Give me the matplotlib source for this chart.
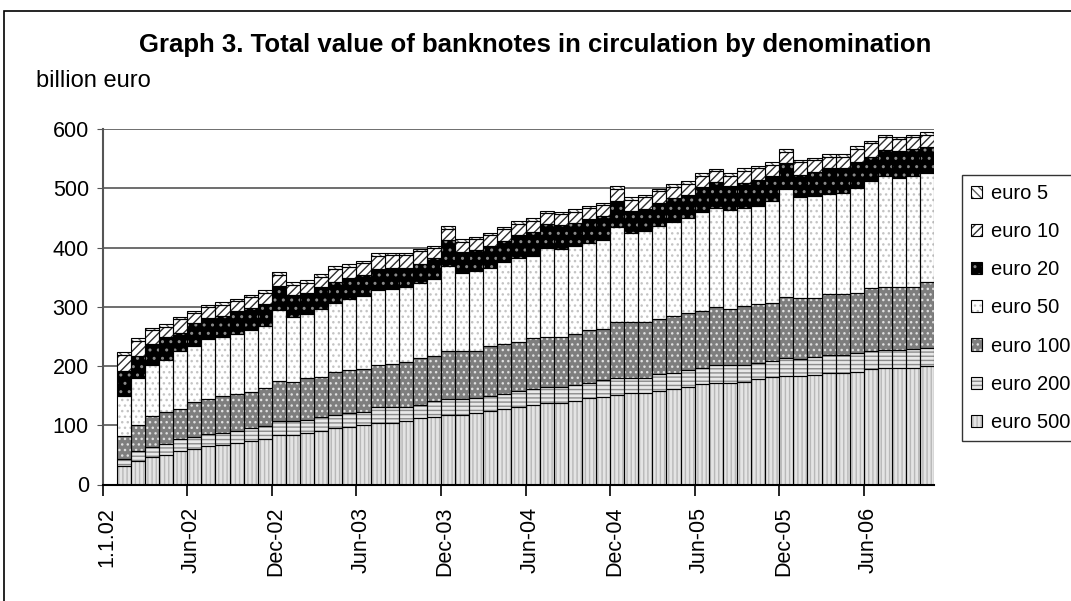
import matplotlib
matplotlib.use("Agg")
import matplotlib.pyplot as plt
import numpy as np
from matplotlib.patches import Patch, Rectangle

plt.rcParams['font.family'] = ['Liberation Sans', 'DejaVu Sans']
plt.rcParams['hatch.linewidth'] = 1.0

# categories: 1.1.02 then month ends Jan-02 .. Oct-06
month_names = ['Jan', 'Feb', 'Mar', 'Apr', 'May', 'Jun',
               'Jul', 'Aug', 'Sep', 'Oct', 'Nov', 'Dec']
categories = ['1.1.02'] + [f'{m}-{y:02d}' for y in range(2, 7) for m in month_names][:58]
label_every = 6

nan = np.nan
# billion euro (no bar shown for 1.1.02)
euro500 = [nan,
           31, 40.5, 46.5, 49.5, 56, 60, 64.5, 67.5, 70, 73, 77.5, 83.5,
           83.5, 87, 91, 95, 97.5, 100.5, 103, 104.5, 107.5, 111.5, 114.5, 117.5,
           117.5, 121.5, 124.5, 128, 131.5, 134.5, 137, 138, 141.5, 145.5, 148, 151,
           154, 154, 158.5, 161, 164, 169.5, 170.5, 170.5, 173.5, 177.5, 181, 183.5,
           183.5, 185, 187.5, 188.5, 190.5, 194.5, 197, 197, 197, 200.5]
euro200 = [nan,
           12.5, 16, 17, 19.5, 21, 20, 21, 19.5, 20, 22.5, 22, 23,
           23, 22.5, 22.5, 22.5, 22.5, 22.5, 27, 26, 24, 22.5, 26.5, 27,
           27, 25, 25, 25, 26, 26.5, 27, 26, 26.5, 26.5, 28, 29.5,
           26.5, 26.5, 28, 28, 29, 27.5, 31, 31, 28, 27, 27, 30.5,
           27.5, 30, 30.5, 30, 31, 30, 30, 30, 31, 30.5]
euro100 = [nan,
           38, 44.5, 51.5, 53.5, 51, 59.5, 59.5, 62, 63.5, 60, 63.5, 69,
           66, 70, 68.5, 73, 73, 72, 72.5, 72.5, 75, 79, 76.5, 81.5,
           81.5, 79, 84.5, 84, 82.5, 86, 85.5, 85.5, 85.5, 89, 87, 93,
           93, 93, 93, 95, 97, 95.5, 98.5, 94.5, 99.5, 99.5, 99, 103,
           103, 100.5, 103, 103, 102.5, 107, 107, 107, 106, 110]
euro50 = [nan,
          68.5, 79.5, 86, 88, 96.5, 95, 100.5, 99.5, 101, 105.5, 105, 119,
          109.5, 108.5, 113.5, 115.5, 119.5, 123, 126.5, 126.5, 126.5, 126.5, 129, 143.5,
          130.5, 134, 132, 139, 141.5, 139, 150, 147.5, 149, 146, 149, 161,
          151, 154.5, 157, 159.5, 159, 168, 167, 167, 166.5, 166, 171.5, 181,
          171.5, 172, 169.5, 170, 177, 180, 187, 184, 187, 184.5]
euro20 = [nan,
          41, 37, 36.5, 38, 32, 38, 35.5, 35.5, 37.5, 36.5, 37, 40.5,
          38, 35, 38.5, 36.5, 35.5, 35.5, 35.5, 35.5, 32, 32, 35.5, 43.5,
          36.5, 36.5, 36.5, 35.5, 39.5, 41, 40.5, 41, 39.5, 40.5, 40.5, 43.5,
          36.5, 36.5, 38, 39.5, 39.5, 41, 43, 40.5, 41.5, 44, 42, 44,
          36.5, 40.5, 43.5, 42.5, 44, 42, 44, 45.5, 45, 44]
euro10 = [nan,
          28, 25.5, 22.5, 18, 23, 17, 18.5, 19.5, 18, 18.5, 18, 18.5,
          17, 17, 17, 21.5, 19.5, 19.5, 21.5, 21.5, 21.5, 22, 17, 18.5,
          17, 18.5, 18.5, 19.5, 19.5, 18.5, 18, 18.5, 18.5, 19, 18.5, 21,
          19.5, 20, 20.5, 19.5, 19.5, 19, 18.5, 17.5, 20.5, 19.5, 19, 19.5,
          21.5, 19, 19.5, 19.5, 21.5, 22.5, 21.5, 19.5, 20, 21]
euro5 = [nan,
         4, 4.5, 4, 4, 4, 4, 4, 4, 3.5, 4, 4.5, 4.5,
         4, 4.5, 4, 4, 4, 4, 4, 4, 4, 4, 4, 4,
         4, 4, 4, 4, 4, 4, 4, 4, 4, 4, 4, 4.5,
         4, 4, 4, 4, 4, 4.5, 4, 4, 4, 4, 4, 4.5,
         4, 4, 4, 4, 4, 4, 4, 4, 4, 4]

series_names = ['euro 500', 'euro 200', 'euro 100', 'euro 50', 'euro 20', 'euro 10', 'euro 5']
series_values = [euro500, euro200, euro100, euro50, euro20, euro10, euro5]
# (face colour, hatch, hatch colour) imitating the grey-scale fill patterns
styles = [('#e4e4e4', '||||', '#b8b8b8'),
          ('#e8e8e8', '----', '#8c8c8c'),
          ('#7e7e7e', '...', '#e0e0e0'),
          ('#ffffff', '...', '#c4c4c4'),
          ('#000000', '..', '#8a8a8a'),
          ('#ffffff', '////', '#303030'),
          ('#ffffff', '\\\\\\\\', '#606060')]

W, H = 1071, 601
fig = plt.figure(figsize=(W / 100, H / 100), dpi=100)
ax = fig.add_axes([102.7 / W, 1 - 484.5 / H, (934.3 - 102.7) / W, (484.5 - 129) / H])

x = np.arange(len(categories))
bottom = np.zeros(len(categories))
handles = []
for name, vals, (fc, hatch, hc) in zip(series_names, series_values, styles):
    vals = np.array(vals, dtype=float)
    ax.bar(x, vals, width=1.0, bottom=bottom, color=fc, hatch=hatch,
           edgecolor=hc, linewidth=0, zorder=2)
    ax.bar(x, vals, width=1.0, bottom=bottom, fill=False,
           edgecolor='black', linewidth=0.8, zorder=3)
    handles.append((Patch(facecolor=fc, hatch=hatch, edgecolor=hc, linewidth=0),
                    Patch(fill=False, edgecolor='black', linewidth=0.8)))
    bottom = bottom + vals

ax.set_xlim(-0.5, len(categories) - 0.5)
ax.set_ylim(0, 600)
ax.set_yticks(np.arange(0, 601, 100))
ax.yaxis.grid(True, color='#555555', linewidth=1.2)
ax.set_axisbelow(True)
ax.tick_params(axis='y', labelsize=15.5, length=4, color='#555555', pad=6)

pos = np.arange(0, len(categories), label_every)
ax.set_xticks(pos - 0.5)
ax.set_xticklabels([])
ax.set_xticks(pos - 0.2, minor=True)
ax.set_xticklabels([categories[i] for i in pos], minor=True, rotation=90,
                   fontsize=15.5)
ax.tick_params(axis='x', which='major', length=8, width=1.2)
ax.tick_params(axis='x', which='minor', length=0, pad=16)

for s in ['top', 'right']:
    ax.spines[s].set_visible(False)
ax.spines['left'].set_color('#555555')
ax.spines['left'].set_linewidth(1.5)
ax.spines['bottom'].set_linewidth(1.5)

fig.text(535 / W, 1 - 45 / H,
         'Graph 3. Total value of banknotes in circulation by denomination',
         ha='center', va='center', fontsize=18.5, fontweight='bold')
fig.text(36 / W, 1 - 81 / H, 'billion euro', ha='left', va='center', fontsize=17)

leg = fig.legend(handles[::-1], series_names[::-1], loc='upper left',
                 bbox_to_anchor=(962 / W, 1 - 175 / H), fontsize=14.5,
                 frameon=True, fancybox=False, handlelength=0.55,
                 handleheight=0.55, handletextpad=0.45, labelspacing=0.95,
                 borderpad=0.45, borderaxespad=0)
leg.get_frame().set_edgecolor('black')
leg.get_frame().set_linewidth(1.0)

# outer chart frame
fig.patches.append(Rectangle((4 / W, -0.1), 1.2, 1 - 11 / H + 0.1,
                             transform=fig.transFigure, fill=False,
                             edgecolor='black', linewidth=1.2))

fig.savefig('out.png', dpi=100)
